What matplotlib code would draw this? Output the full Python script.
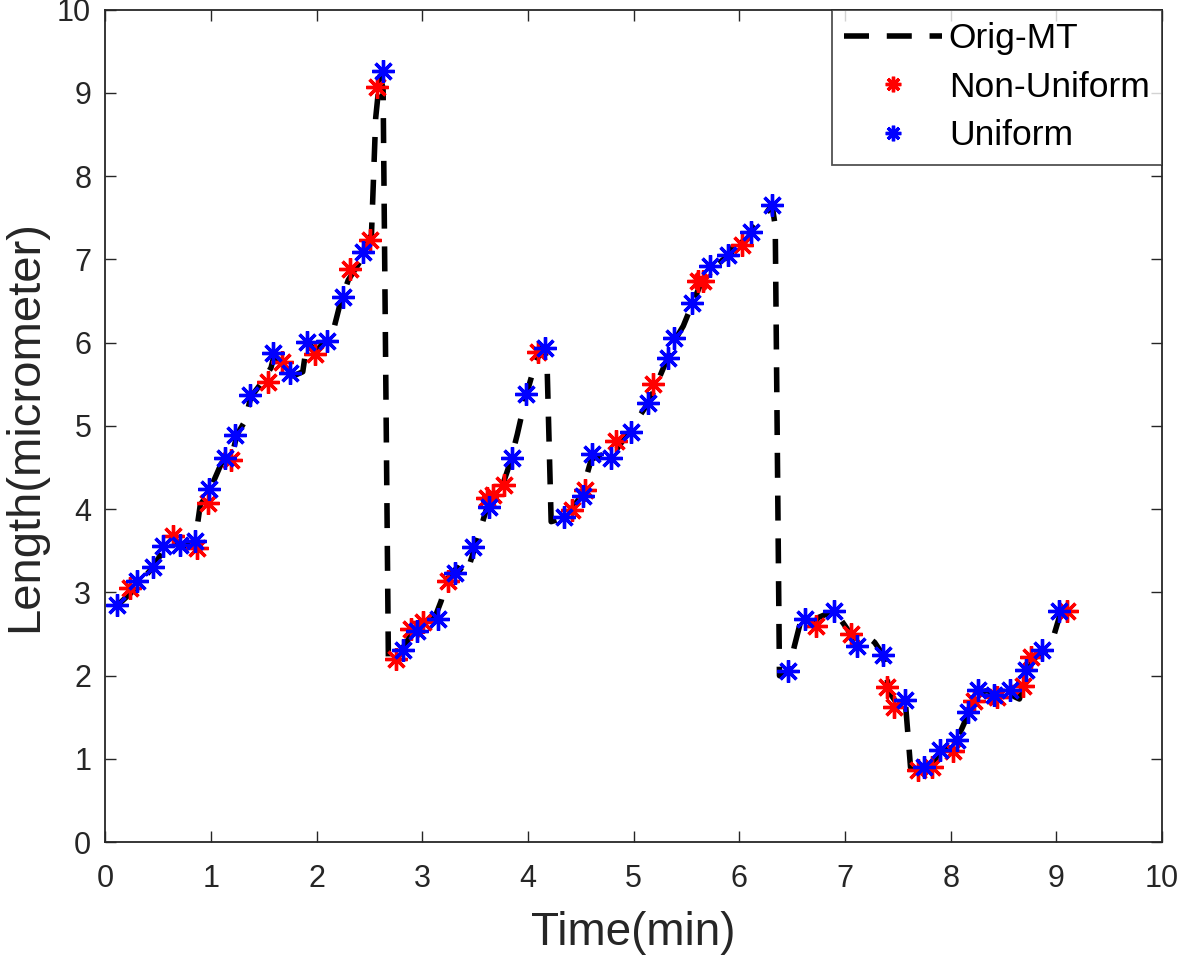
import matplotlib
matplotlib.use("Agg")
import matplotlib.pyplot as plt

plt.rcParams['font.family'] = ['Liberation Sans', 'DejaVu Sans']

# original MT length trace
orig_t = [0.12, 0.25, 0.35, 0.45, 0.55, 0.65, 0.75, 0.85, 0.9, 0.98, 1.1, 1.2, 1.25,
          1.32, 1.38, 1.5, 1.57, 1.6, 1.68, 1.78, 1.87, 1.91, 2.0, 2.1, 2.17, 2.22,
          2.3, 2.4, 2.45, 2.52, 2.56, 2.6, 2.63, 2.68, 2.8, 2.9, 3.0, 3.12, 3.18,
          3.23, 3.33, 3.42, 3.5, 3.62, 3.75, 3.83, 3.9, 3.98, 4.07, 4.14, 4.18, 4.22,
          4.35, 4.5, 4.6, 4.7, 4.8, 4.97, 5.15, 5.3, 5.4, 5.47, 5.55, 5.65, 5.75,
          5.85, 5.92, 5.97, 6.05, 6.15, 6.25, 6.31, 6.34, 6.38, 6.47, 6.52, 6.58,
          6.65, 6.75, 6.9, 7.0, 7.08, 7.18, 7.28, 7.36, 7.42, 7.5, 7.57, 7.62, 7.7,
          7.8, 7.9, 8.0, 8.1, 8.17, 8.25, 8.35, 8.45, 8.56, 8.6, 8.65, 8.7, 8.78,
          8.9, 8.98, 9.05]
orig_len = [2.85, 3.0, 3.15, 3.3, 3.5, 3.6, 3.55, 3.6, 4.05, 4.2, 4.55, 4.65, 4.9,
            5.05, 5.35, 5.55, 5.7, 5.85, 5.75, 5.6, 5.65, 6.0, 5.9, 6.05, 6.2, 6.45,
            6.75, 6.95, 7.1, 7.3, 8.7, 9.2, 9.05, 2.2, 2.3, 2.5, 2.6, 2.7, 2.9,
            3.15, 3.3, 3.22, 3.55, 4.05, 4.25, 4.55, 4.9, 5.35, 5.75, 5.95, 5.8, 3.85,
            3.9, 4.15, 4.6, 4.65, 4.65, 4.95, 5.3, 5.75, 6.05, 6.2, 6.45, 6.75, 6.9,
            7.0, 7.05, 7.3, 7.2, 7.4, 7.55, 7.65, 7.4, 2.0, 2.05, 2.35, 2.65,
            2.55, 2.7, 2.78, 2.6, 2.45, 2.5, 2.4, 2.25, 1.8, 1.65, 1.7, 0.9, 0.85,
            0.88, 1.1, 1.15, 1.35, 1.55, 1.8, 1.82, 1.75, 1.82, 1.75, 1.72, 1.95, 2.2,
            2.3, 2.5, 2.8]

# non-uniform sampling
nonuni_t = [0.24, 0.64, 0.87, 0.97, 1.19, 1.54, 1.67, 1.99, 2.32, 2.51, 2.57,
            2.75, 2.89, 3.01, 3.24, 3.61, 3.67, 3.77, 4.10, 4.42, 4.54, 4.83, 5.18,
            5.61, 5.66, 6.03, 6.73, 7.06, 7.40, 7.46, 7.69, 7.82, 8.02, 8.22, 8.44,
            8.68, 8.76, 9.10]
nonuni_len = [3.05, 3.68, 3.53, 4.08, 4.59, 5.53, 5.77, 5.86, 6.88, 7.23, 9.07,
              2.20, 2.56, 2.65, 3.14, 4.14, 4.17, 4.29, 5.89, 3.99, 4.23, 4.82, 5.50,
              6.74, 6.74, 7.17, 2.60, 2.50, 1.87, 1.63, 0.87, 0.90, 1.10, 1.70, 1.75,
              1.88, 2.22, 2.78]

# uniform sampling
uni_t = [0.11, 0.30, 0.45, 0.55, 0.71, 0.85, 0.98, 1.13, 1.23, 1.37, 1.59, 1.75,
         1.91, 2.10, 2.25, 2.44, 2.63, 2.82, 2.95, 3.15, 3.31, 3.48, 3.63, 3.85,
         3.98, 4.16, 4.34, 4.52, 4.61, 4.79, 4.98, 5.14, 5.33, 5.38, 5.55, 5.72,
         5.89, 6.11, 6.31, 6.46, 6.62, 6.90, 7.11, 7.36, 7.57, 7.75, 7.90, 8.06,
         8.16, 8.26, 8.41, 8.56, 8.71, 8.86, 9.02]
uni_len = [2.85, 3.14, 3.30, 3.56, 3.57, 3.62, 4.24, 4.62, 4.89, 5.37, 5.88, 5.64,
           6.01, 6.02, 6.55, 7.09, 9.26, 2.31, 2.54, 2.68, 3.23, 3.55, 4.03, 4.61,
           5.38, 5.94, 3.90, 4.16, 4.66, 4.61, 4.93, 5.27, 5.81, 6.06, 6.47, 6.92,
           7.05, 7.33, 7.65, 2.06, 2.68, 2.78, 2.36, 2.25, 1.71, 0.90, 1.11, 1.23,
           1.56, 1.83, 1.77, 1.83, 2.07, 2.31, 2.78]

fig = plt.figure(figsize=(11.81, 9.56), dpi=100)
ax = fig.add_axes([0.089, 0.119, 0.895, 0.871])

ax.plot(orig_t, orig_len, color='black', lw=4, dashes=(4.5, 3.2), label='Orig-MT', zorder=2)
star = (8, 2, 0)
ax.plot(nonuni_t, nonuni_len, ls='none', marker=star, ms=16, mew=2.4, color='red',
        label='Non-Uniform', zorder=3)
ax.plot(uni_t, uni_len, ls='none', marker=star, ms=16, mew=2.4, color='blue',
        label='Uniform', zorder=4)

ax.set_xlim(0, 10)
ax.set_ylim(0, 10)
ax.set_xticks(range(0, 11))
ax.set_yticks(range(0, 11))
ax.tick_params(direction='in', length=8, width=1, top=True, right=True,
               labelsize=22, colors='#262626')
ax.tick_params(axis='x', pad=16)
ax.tick_params(axis='y', pad=10)
for sp in ax.spines.values():
    sp.set_linewidth(1.3)
    sp.set_color('#262626')

ax.set_xlabel('Time(min)', fontsize=33, color='#262626', labelpad=12)
ax.set_ylabel('Length(micrometer)', fontsize=34, color='#262626', labelpad=7)

leg = ax.legend(loc='upper right', prop={'size': 25.5}, frameon=True, fancybox=False,
                borderaxespad=0, handlelength=2.75, markerscale=0.7,
                labelspacing=0.44, borderpad=0.35, handletextpad=0.2)
leg.get_frame().set_edgecolor('#262626')
leg.get_frame().set_linewidth(1.3)

fig.savefig('out.png', dpi=100)
